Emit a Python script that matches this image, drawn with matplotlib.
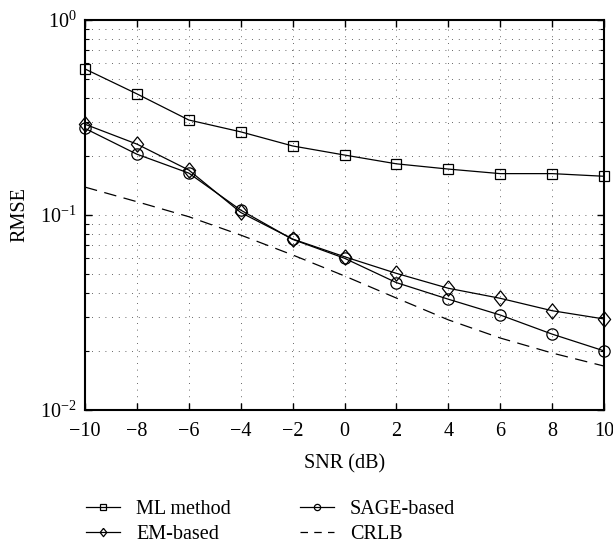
import matplotlib
matplotlib.use("Agg")
import matplotlib.pyplot as plt
from matplotlib.lines import Line2D
from matplotlib.ticker import LogLocator, NullFormatter

plt.rcParams['font.family'] = ['Liberation Serif', 'DejaVu Serif']
plt.rcParams['mathtext.fontset'] = 'custom'
plt.rcParams['mathtext.rm'] = 'Liberation Serif'
plt.rcParams['mathtext.it'] = 'Liberation Serif:italic'

snr = [-10, -8, -6, -4, -2, 0, 2, 4, 6, 8, 10]
ml_method = [0.561, 0.418, 0.307, 0.267, 0.226, 0.203, 0.183, 0.172, 0.163, 0.163, 0.158]
em_based = [0.292, 0.231, 0.170, 0.103, 0.0753, 0.0611, 0.0502, 0.0421, 0.0374, 0.0323, 0.0293]
sage_based = [0.278, 0.205, 0.164, 0.106, 0.0750, 0.0600, 0.0450, 0.0370, 0.0307, 0.0245, 0.0201]
crlb = [0.139, 0.117, 0.098, 0.0789, 0.0624, 0.0487, 0.0375, 0.0290, 0.0234, 0.0196, 0.0168]
labels = ['ML method', 'EM-based', 'SAGE-based', 'CRLB']

diamond = [(0, 1), (0.8, 0), (0, -1), (-0.8, 0), (0, 1)]

fig = plt.figure(figsize=(6.13, 5.45), dpi=100)
ax = fig.add_axes([85/613, 1-410/545, 519/613, 390/545])

lw = 0.9
ms = 7.8
ax.plot(snr, ml_method, '-', color='black', lw=lw, marker='s', ms=ms,
        mfc='none', mec='black', mew=0.9, clip_on=False, zorder=3)
ax.plot(snr, em_based, '-', color='black', lw=lw, marker=diamond, ms=11,
        mfc='none', mec='black', mew=0.9, clip_on=False, zorder=3)
ax.plot(snr, sage_based, '-', color='black', lw=lw, marker='o', ms=ms+0.3,
        mfc='none', mec='black', mew=0.9, clip_on=False, zorder=3)
ax.plot(snr, crlb, color='black', lw=lw, linestyle=(0, (10, 6)), zorder=3)

ax.set_yscale('log')
ax.set_xlim(-10, 10)
ax.set_ylim(1e-2, 1e0)
ax.set_xticks(snr)
ax.yaxis.set_major_locator(LogLocator(base=10, numticks=10))
ax.yaxis.set_minor_locator(LogLocator(base=10, subs=range(2, 10), numticks=20))
ax.yaxis.set_minor_formatter(NullFormatter())

ax.grid(True, which='major', axis='x', color='#333333', lw=0.6, linestyle=(0, (1, 7)))
ax.grid(True, which='both', axis='y', color='#333333', lw=0.6, linestyle=(0, (1, 7)))

ax.tick_params(which='both', direction='in', top=True, right=True, labelsize=14.5, color='black')
ax.tick_params(which='major', length=5, width=1)
ax.tick_params(which='minor', length=3, width=0.8)
ax.tick_params(axis='x', pad=9)
ax.tick_params(axis='y', pad=6)
for s in ax.spines.values():
    s.set_linewidth(1.5)

ax.set_xlabel('SNR (dB)', fontsize=14.5, labelpad=9)
ax.set_ylabel('RMSE', fontsize=14.5, labelpad=8)

handles = [
    Line2D([], [], color='black', lw=lw, marker='s', ms=4.5, mfc='none', mec='black', mew=0.9),
    Line2D([], [], color='black', lw=lw, marker=diamond, ms=6, mfc='none', mec='black', mew=0.9),
    Line2D([], [], color='black', lw=lw, marker='o', ms=4.5, mfc='none', mec='black', mew=0.9),
    Line2D([], [], color='black', lw=lw, linestyle=(0, (6, 5))),
]
fig.legend(handles, labels, ncol=2, frameon=False, fontsize=14.5,
           loc='upper left', bbox_to_anchor=(86/613, 1-500/545),
           handlelength=1.7, handletextpad=0.8, columnspacing=3.4, labelspacing=0.3,
           borderaxespad=0, borderpad=0)

fig.savefig('out.png', dpi=100)
